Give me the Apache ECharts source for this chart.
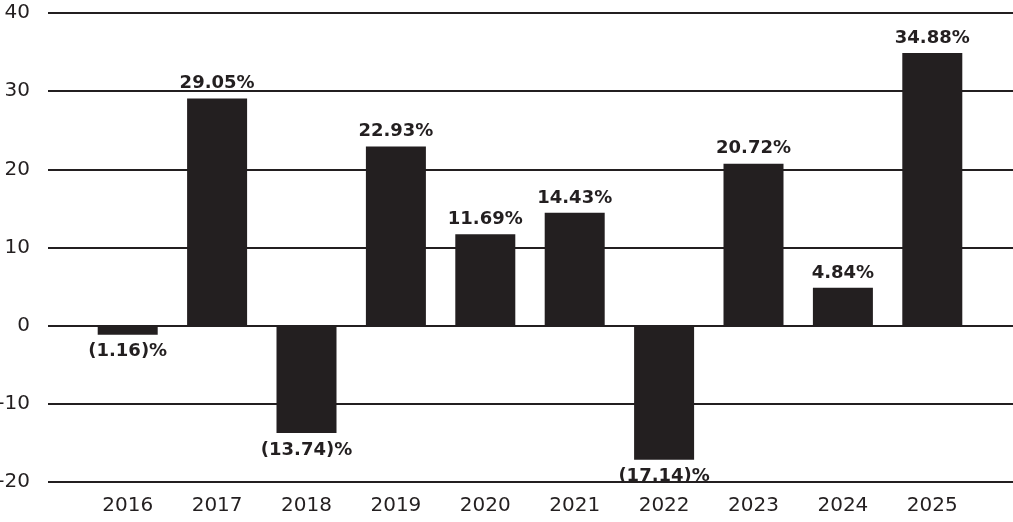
<!DOCTYPE html>
<html>
<head>
<meta charset="utf-8">
<script src="https://cdn.jsdelivr.net/npm/echarts@6/dist/echarts.min.js"></script>
<style>html,body{margin:0;padding:0;background:#fff}#c{width:1013px;height:522px}</style>
</head>
<body>
<div id="c"></div>
<script>
const years = ['2016','2017','2018','2019','2020','2021','2022','2023','2024','2025'];
const returns = [-1.16, 29.05, -13.74, 22.93, 11.69, 14.43, -17.14, 20.72, 4.84, 34.88];
const yTicks = { min: -20, max: 40, interval: 10 };

const ink = '#231f20';
const font = 'DejaVu Sans';
const chart = echarts.init(document.getElementById('c'));
chart.setOption({
  animation: false,
  backgroundColor: '#fff',
  grid: [
    { left: 48, right: 0, top: 13, bottom: 40, containLabel: false, outerBoundsMode: 'none' },
    { left: 83, right: 36, top: 13, bottom: 40, containLabel: false, outerBoundsMode: 'none' }
  ],
  xAxis: [
    { gridIndex: 0, type: 'category', data: years, show: false },
    { gridIndex: 1, type: 'category', data: years,
      axisLine: { show: false }, axisTick: { show: false },
      axisLabel: { color: ink, fontFamily: font, fontSize: 20, margin: 14 } }
  ],
  yAxis: [
    { gridIndex: 0, type: 'value', min: yTicks.min, max: yTicks.max, interval: yTicks.interval,
      axisLine: { show: false }, axisTick: { show: false },
      axisLabel: { color: ink, fontFamily: font, fontSize: 20, margin: 18 },
      splitLine: { lineStyle: { color: ink, width: 2 } } },
    { gridIndex: 1, type: 'value', min: yTicks.min, max: yTicks.max, interval: yTicks.interval, show: false,
      splitLine: { show: false } }
  ],
  series: [{
    type: 'bar',
    xAxisIndex: 1, yAxisIndex: 1,
    data: returns.map(v => ({
      value: v,
      label: { position: v < 0 ? 'bottom' : 'top', distance: v < 0 ? 8 : 6 }
    })),
    barWidth: 60,
    itemStyle: { color: ink },
    label: {
      show: true,
      color: ink, fontFamily: font, fontWeight: 'bold', fontSize: 18,
      formatter: p => p.value < 0 ? '(' + Math.abs(p.value).toFixed(2) + ')%' : p.value.toFixed(2) + '%'
    }
  }]
});
</script>
</body>
</html>
